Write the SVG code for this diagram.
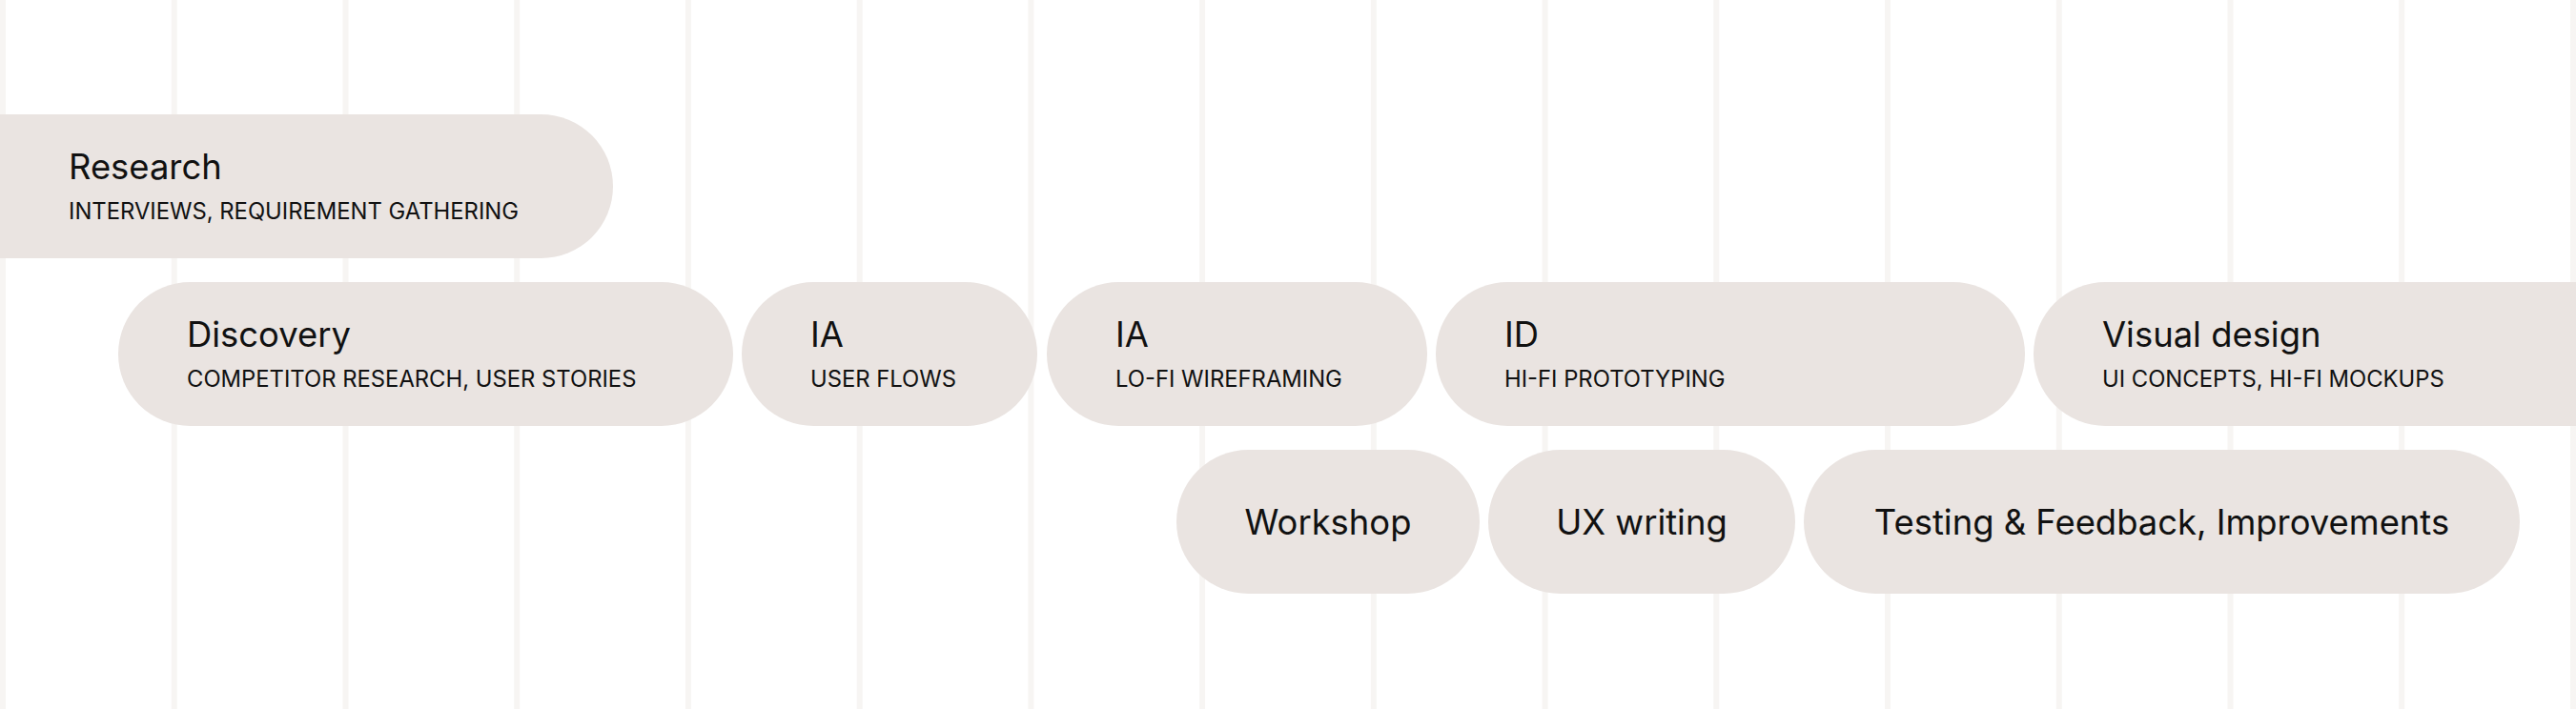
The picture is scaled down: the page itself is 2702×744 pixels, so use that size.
<svg xmlns="http://www.w3.org/2000/svg" width="2702" height="744" viewBox="0 0 2702 744">
<style>
.grid line{stroke:#f7f5f3;stroke-width:6}
.pill{fill:#eae4e1}
.t{font-family:Inter,"Noto Sans",sans-serif;font-size:36.4px;fill:#111}
.s{font-family:Inter,"Noto Sans",sans-serif;font-size:23.8px;fill:#111}
.c{text-anchor:middle}
</style>
<rect width="2702" height="744" fill="#ffffff"/>
<g class="grid" id="grid">
<line x1="3" y1="0" x2="3" y2="744"/>
<line x1="182.7" y1="0" x2="182.7" y2="744"/>
<line x1="362.5" y1="0" x2="362.5" y2="744"/>
<line x1="542.2" y1="0" x2="542.2" y2="744"/>
<line x1="721.9" y1="0" x2="721.9" y2="744"/>
<line x1="901.7" y1="0" x2="901.7" y2="744"/>
<line x1="1081.4" y1="0" x2="1081.4" y2="744"/>
<line x1="1261.1" y1="0" x2="1261.1" y2="744"/>
<line x1="1440.8" y1="0" x2="1440.8" y2="744"/>
<line x1="1620.6" y1="0" x2="1620.6" y2="744"/>
<line x1="1800.3" y1="0" x2="1800.3" y2="744"/>
<line x1="1980" y1="0" x2="1980" y2="744"/>
<line x1="2159.8" y1="0" x2="2159.8" y2="744"/>
<line x1="2339.5" y1="0" x2="2339.5" y2="744"/>
<line x1="2519.2" y1="0" x2="2519.2" y2="744"/>
<line x1="2699" y1="0" x2="2699" y2="744"/>
</g>
<g id="connectors"></g>
<g id="research">
<rect class="pill" x="-100" y="120" width="743" height="151" rx="75.5"/>
<text class="t" x="72" y="188">Research</text>
<text class="s" x="72" y="230">INTERVIEWS, REQUIREMENT GATHERING</text>
</g>
<g id="discovery">
<rect class="pill" x="124" y="296" width="645" height="151" rx="75.5"/>
<text class="t" x="196" y="364">Discovery</text>
<text class="s" x="196" y="406">COMPETITOR RESEARCH, USER STORIES</text>
</g>
<g id="ia-flows">
<rect class="pill" x="778" y="296" width="310" height="151" rx="75.5"/>
<text class="t" x="850" y="364">IA</text>
<text class="s" x="850" y="406">USER FLOWS</text>
</g>
<g id="ia-wireframing">
<rect class="pill" x="1098" y="296" width="399" height="151" rx="75.5"/>
<text class="t" x="1170" y="364">IA</text>
<text class="s" x="1170" y="406">LO-FI WIREFRAMING</text>
</g>
<g id="id-prototyping">
<rect class="pill" x="1506" y="296" width="618" height="151" rx="75.5"/>
<text class="t" x="1578" y="364">ID</text>
<text class="s" x="1578" y="406">HI-FI PROTOTYPING</text>
</g>
<g id="visual-design">
<rect class="pill" x="2133" y="296" width="700" height="151" rx="75.5"/>
<text class="t" x="2205" y="364">Visual design</text>
<text class="s" x="2205" y="406">UI CONCEPTS, HI-FI MOCKUPS</text>
</g>
<g id="workshop">
<rect class="pill" x="1234" y="472" width="318" height="151" rx="75.5"/>
<text class="t c" x="1393" y="561">Workshop</text>
</g>
<g id="ux-writing">
<rect class="pill" x="1561" y="472" width="322" height="151" rx="75.5"/>
<text class="t c" x="1722" y="561">UX writing</text>
</g>
<g id="testing">
<rect class="pill" x="1892" y="472" width="751" height="151" rx="75.5"/>
<text class="t c" x="2267.5" y="561">Testing &amp; Feedback, Improvements</text>
</g>
</svg>
